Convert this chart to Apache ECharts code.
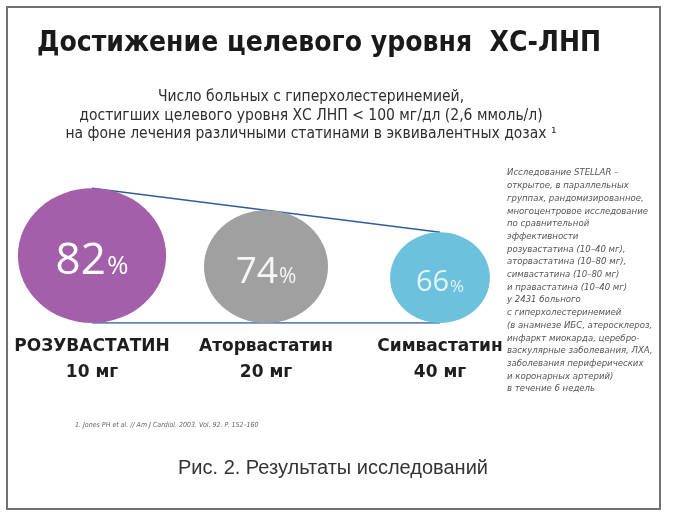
<!DOCTYPE html>
<html>
<head>
<meta charset="utf-8">
<script src="https://cdn.jsdelivr.net/npm/echarts@6/dist/echarts.min.js"></script>
<style>
html,body{margin:0;padding:0;background:#fff;}
#chart{width:682px;height:530px;}
</style>
</head>
<body>
<div id="chart"></div>
<script>
// ---- data ----
const drugNames = ['РОЗУВАСТАТИН', 'Аторвастатин', 'Симвастатин'];
const doses = ['10 мг', '20 мг', '40 мг'];
const percentReached = [82, 74, 66];

const titleText = 'Достижение целевого уровня  ХС-ЛНП';
const subtitleLines = [
  'Число больных с гиперхолестеринемией,',
  'достигших целевого уровня ХС ЛНП < 100 мг/дл (2,6 ммоль/л)',
  'на фоне лечения различными статинами в эквивалентных дозах ¹'
];
const noteLines = [
  'Исследование STELLAR –',
  'открытое, в параллельных',
  'группах, рандомизированное,',
  'многоцентровое исследование',
  'по сравнительной',
  'эффективности',
  'розувастатина (10–40 мг),',
  'аторвастатина (10–80 мг),',
  'симвастатина (10–80 мг)',
  'и правастатина (10–40 мг)',
  'у 2431 больного',
  'с гиперхолестеринемией',
  '(в анамнезе ИБС, атеросклероз,',
  'инфаркт миокарда, церебро-',
  'васкулярные заболевания, ЛХА,',
  'заболевания периферических',
  'и коронарных артерий)',
  'в течение 6 недель'
];
const referenceText = '1. Jones PH et al. // Am J Cardiol. 2003. Vol. 92. P. 152–160';
const captionText = 'Рис. 2. Результаты исследований';

// ---- styles ----
const circleColors = ['#a35fa9', '#a0a0a0', '#6cc1dc'];
const percentColors = ['#ffffff', '#f6f6f6', '#e2f3f8'];
const Y_MIN = 33, Y_MAX = 133;

const chart = echarts.init(document.getElementById('chart'), null, {renderer: 'canvas'});

const option = {
  backgroundColor: '#ffffff',
  animation: false,
  grid: {left: 5, right: 155, top: 48, bottom: 207},
  xAxis: {
    type: 'category',
    data: drugNames,
    boundaryGap: true,
    axisLine: {show: false},
    axisTick: {show: false},
    axisLabel: {
      interval: 0,
      margin: 11,
      formatter: (name, idx) => '{a|' + name + '}\n{a|' + doses[idx] + '}',
      rich: {
        a: {fontFamily: 'DejaVu Sans', fontWeight: 'bold', fontSize: 17, color: '#1e1e1e', lineHeight: 26, align: 'center'}
      }
    }
  },
  yAxis: {type: 'value', min: Y_MIN, max: Y_MAX, show: false},
  graphic: [
    {type: 'rect', shape: {x: 7, y: 7, width: 653, height: 502}, style: {fill: 'none', stroke: '#727272', lineWidth: 2}, z: 10},
    {type: 'text', x: 37, y: 44, style: {text: titleText, font: 'bold 28px "DejaVu Sans Condensed", "DejaVu Sans", sans-serif', fill: '#1a1a1a', textAlign: 'left', textVerticalAlign: 'middle'}},
    {type: 'text', x: 311, y: 88, style: {text: subtitleLines.join('\n'), font: '15.5px "DejaVu Sans Condensed", "DejaVu Sans", sans-serif', fill: '#2e2e2e', textAlign: 'center', textVerticalAlign: 'top', lineHeight: 18.5}},
    {type: 'text', x: 507, y: 166.6, style: {text: noteLines.join('\n'), font: 'italic 9.5px "DejaVu Sans Condensed", "DejaVu Sans", sans-serif', fill: '#555555', textAlign: 'left', textVerticalAlign: 'top', lineHeight: 12.7}},
    {type: 'text', x: 75, y: 425, style: {text: referenceText, font: 'italic 7px "DejaVu Sans Condensed", "DejaVu Sans", sans-serif', fill: '#666666', textAlign: 'left', textVerticalAlign: 'middle'}},
    {type: 'text', x: 333, y: 468, style: {text: captionText, font: '20px "Liberation Sans", Arial, sans-serif', fill: '#333333', textAlign: 'center', textVerticalAlign: 'middle'}}
  ],
  series: [
    {
      type: 'line',
      data: [[0, percentReached[0]], [2, percentReached[2]]],
      symbol: 'none',
      lineStyle: {color: '#2d5d9d', width: 1.5},
      z: 1
    },
    {
      type: 'line',
      data: [[0, Y_MIN], [2, Y_MIN]],
      symbol: 'none',
      lineStyle: {color: '#2d5d9d', width: 1.5},
      z: 1
    },
    {
      type: 'custom',
      z: 5,
      data: percentReached.map((v, i) => [i, v]),
      renderItem: function (params, api) {
        const i = api.value(0);
        const v = api.value(1);
        const top = api.coord([i, v]);
        const base = api.coord([i, Y_MIN]);
        const h = base[1] - top[1];
        const cx = top[0];
        const cy = top[1] + h / 2;
        const fs = Math.round(h * 0.325);
        const ps = Math.round(fs * 0.58);
        const col = percentColors[i];
        return {
          type: 'group',
          children: [
            {type: 'circle', x: cx, y: cy, scaleX: 1.1, shape: {cx: 0, cy: 0, r: h / 2}, style: {fill: circleColors[i]}},
            {type: 'text', x: cx, y: cy + 4, style: {
              text: '{n|' + v + '}{p|%}',
              fill: col,
              align: 'center', verticalAlign: 'middle',
              rich: {
                n: {fontFamily: '"Open Sans", sans-serif', fontSize: fs, fill: col, lineHeight: fs * 1.1, verticalAlign: 'bottom'},
                p: {fontFamily: '"Open Sans", sans-serif', fontSize: ps, fill: col, lineHeight: fs * 1.1, verticalAlign: 'bottom', padding: [0, 0, Math.round(fs * 0.08), 1]}
              }
            }}
          ]
        };
      }
    }
  ]
};
chart.setOption(option);
</script>
</body>
</html>
